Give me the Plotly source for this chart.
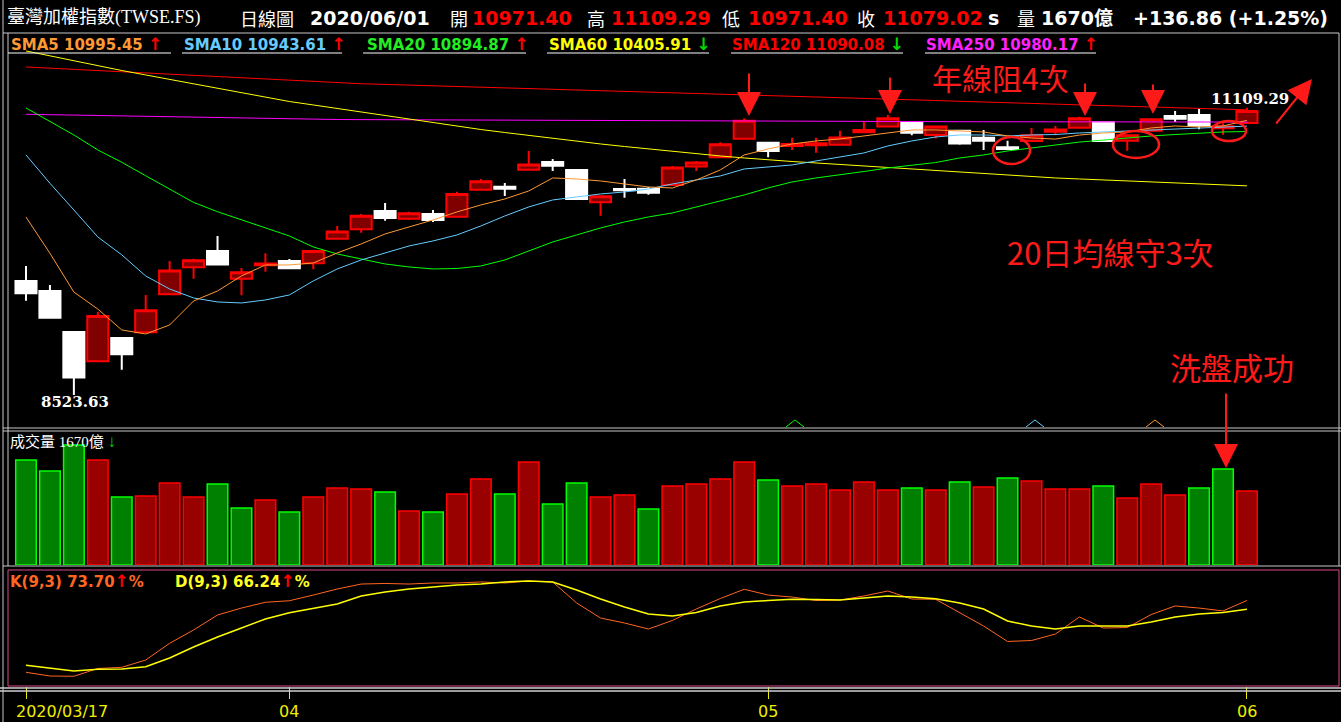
import plotly.graph_objects as go

# ---------------- data ----------------
dates = [
    "2020/03/17", "2020/03/18", "2020/03/19", "2020/03/20", "2020/03/23", "2020/03/24",
    "2020/03/25", "2020/03/26", "2020/03/27", "2020/03/30", "2020/03/31",
    "2020/04/01", "2020/04/06", "2020/04/07", "2020/04/08", "2020/04/09", "2020/04/10",
    "2020/04/13", "2020/04/14", "2020/04/15", "2020/04/16", "2020/04/17", "2020/04/20",
    "2020/04/21", "2020/04/22", "2020/04/23", "2020/04/24", "2020/04/27", "2020/04/28",
    "2020/04/29", "2020/04/30",
    "2020/05/04", "2020/05/05", "2020/05/06", "2020/05/07", "2020/05/08", "2020/05/11",
    "2020/05/12", "2020/05/13", "2020/05/14", "2020/05/15", "2020/05/18", "2020/05/19",
    "2020/05/20", "2020/05/21", "2020/05/22", "2020/05/25", "2020/05/26", "2020/05/27",
    "2020/05/28", "2020/05/29",
    "2020/06/01",
]
opens = [9550, 9459, 9090, 8827, 9036, 9088, 9430, 9673, 9819, 9570, 9691,
         9729, 9709, 9930, 10015, 10179, 10110, 10152, 10128, 10371, 10398, 10551, 10620,
         10548, 10258, 10377, 10380, 10413, 10581, 10663, 10830,
         10794, 10764, 10771, 10776, 10888, 10941, 10980, 10863, 10902, 10839, 10753, 10809,
         10893, 10929, 10978, 10812, 10902, 11034, 11043, 10924,
         10971.40]
highs = [9685, 9513, 9095, 9273, 9040, 9423, 9729, 9750, 9954, 9666, 9799,
         9747, 9825, 10044, 10152, 10251, 10173, 10188, 10353, 10468, 10431, 10719, 10647,
         10555, 10315, 10467, 10395, 10584, 10629, 10798, 11014,
         10800, 10839, 10839, 10902, 10983, 11043, 10985, 10945, 10910, 10908, 10812, 10926,
         10944, 11028, 10985, 10865, 11010, 11079, 11098, 10969,
         11109.29]
lows = [9372, 9210, 8523.63, 8820, 8751, 9080, 9425, 9570, 9690, 9421, 9633,
        9660, 9655, 9925, 9984, 10092, 10098, 10080, 10120, 10365, 10314, 10545, 10539,
        10278, 10137, 10299, 10326, 10410, 10539, 10660, 10825,
        10663, 10728, 10704, 10770, 10885, 10938, 10861, 10833, 10776, 10728, 10728, 10805,
        10861, 10925, 10805, 10722, 10898, 10980, 10915, 10866,
        10971.40]
closes = [9440, 9219, 8681, 9234, 8890, 9286, 9645, 9736, 9699, 9629, 9708,
          9664, 9819, 9996, 10137, 10116, 10159, 10098, 10333, 10447, 10380, 10597, 10587,
          10288, 10312, 10366, 10344, 10572, 10617, 10780, 10992,
          10720, 10782, 10789, 10842, 10908, 11014, 10884, 10941, 10788, 10812, 10737, 10861,
          10914, 11014, 10809, 10861, 11005, 11010, 10946, 10942.16,
          11079.02]
prev_close = 9717.77

volume = [2370, 2122, 2708, 2370, 1535, 1557, 1851, 1535, 1828, 1286,
          1467, 1196, 1535, 1738, 1715, 1648, 1219, 1196, 1602, 1941,
          1602, 2325, 1377, 1851, 1535, 1580, 1264, 1783, 1828, 1941,
          2325, 1918, 1783, 1828, 1693, 1873, 1693, 1738, 1693, 1873,
          1760, 1964, 1896, 1715, 1715, 1783, 1512, 1828, 1580, 1738,
          2167, 1670]

sma5 = [10125, 9799, 9450, 9297, 9109, 9073, 9154, 9370, 9460, 9595,
        9694, 9694, 9712, 9802, 9883, 9973, 10036, 10099, 10171, 10234,
        10288, 10360, 10477, 10468, 10450, 10423, 10396, 10387, 10459, 10549,
        10684, 10738, 10783, 10810, 10828, 10855, 10882, 10909, 10909, 10900,
        10891, 10855, 10837, 10827, 10863, 10882, 10891, 10927, 10945, 10936,
        10945, 10995.45]
sma10 = [10684, 10429, 10189, 9946, 9785, 9595, 9478, 9397, 9361, 9352,
         9379, 9424, 9550, 9658, 9739, 9802, 9865, 9910, 9964, 10045,
         10135, 10216, 10279, 10306, 10333, 10351, 10378, 10423, 10459, 10495,
         10558, 10576, 10594, 10630, 10666, 10702, 10765, 10810, 10846, 10864,
         10864, 10855, 10864, 10868, 10882, 10891, 10900, 10904, 10918, 10927,
         10936, 10943.61]
sma20 = [11107, 10983, 10864, 10729, 10618, 10497, 10378, 10257, 10173, 10100,
         10027, 9955, 9856, 9793, 9748, 9703, 9676, 9658, 9662, 9685,
         9739, 9820, 9901, 9964, 10027, 10081, 10126, 10162, 10216, 10270,
         10324, 10387, 10441, 10477, 10504, 10535, 10567, 10594, 10616, 10657,
         10684, 10720, 10747, 10774, 10800, 10818, 10837, 10855, 10868, 10882,
         10891, 10894.87]
sma60 = [11620, 11575, 11530, 11485, 11444, 11404, 11363, 11323, 11287, 11246,
         11206, 11165, 11134, 11102, 11071, 11039, 11008, 10976, 10945, 10913,
         10886, 10859, 10832, 10810, 10783, 10760, 10738, 10715, 10693, 10675,
         10657, 10639, 10625, 10612, 10598, 10585, 10571, 10558, 10544, 10531,
         10517, 10504, 10490, 10477, 10468, 10459, 10450, 10441, 10432, 10423,
         10414, 10405.91]
sma120 = [11476, 11465, 11454, 11443, 11432, 11422, 11410, 11398, 11386, 11375,
          11364, 11353, 11342, 11332, 11325, 11319, 11313, 11306, 11300, 11294,
          11287, 11281, 11275, 11269, 11262, 11256, 11250, 11243, 11237, 11231,
          11225, 11219, 11212, 11206, 11199, 11193, 11186, 11180, 11174, 11167,
          11161, 11154, 11148, 11142, 11135, 11129, 11122, 11116, 11110, 11103,
          11097, 11090.08]
sma250 = [11050, 11046, 11042, 11038, 11034, 11030, 11026, 11022, 11018, 11014,
          11010, 11006, 11004, 11003, 11002, 11001, 11000, 10999, 10998, 10997,
          10996, 10995, 10994, 10993, 10992, 10991, 10990, 10989, 10988, 10987,
          10986, 10986, 10986, 10985, 10985, 10985, 10984, 10984, 10984, 10983,
          10983, 10983, 10982, 10982, 10982, 10982, 10981, 10981, 10981, 10980,
          10980, 10980.17]

k_vals = [11.8, 8.6, 8.4, 15.1, 16.1, 22.4, 36.8, 48.3, 61.2, 67.2,
          72.2, 73.5, 78.4, 83.6, 87.9, 88.4, 87.9, 88.8, 88.8, 89.7,
          88.8, 90.5, 89.7, 71.6, 58.6, 54.3, 49.1, 56.5, 66.4, 75.4,
          83.4, 78.4, 76.7, 73.7, 74.1, 77.6, 81.9, 75.0, 74.7, 62.9,
          51.7, 38.4, 39.2, 44.8, 59.5, 50.0, 50.4, 61.6, 69.0, 67.2,
          64.7, 73.70]
d_vals = [17.8, 15.5, 12.9, 14.4, 14.7, 16.6, 24.1, 33.6, 42.2, 50.0,
          57.8, 63.2, 67.2, 70.7, 77.6, 81.0, 83.6, 85.3, 87.1, 87.9,
          89.7, 90.5, 89.7, 82.8, 75.0, 68.1, 62.1, 60.3, 63.4, 69.0,
          72.4, 73.7, 74.7, 74.6, 74.1, 75.9, 77.6, 76.7, 75.3, 71.6,
          66.4, 56.0, 51.7, 49.1, 51.7, 51.7, 51.7, 55.2, 59.5, 62.1,
          63.4, 66.24]

tick_dates = ["2020/03/17", "2020/04/01", "2020/05/04", "2020/06/01"]
tick_labels = ["2020/03/17", "04", "05", "06"]

# ---------------- layout helpers ----------------
W, H = 1341, 722
STEP = 23.94
X0PIX = 26


def px(x):
    return x / W


def py(y):
    return 1 - y / H


CJK = "Noto Sans CJK TC"
SANS = "DejaVu Sans"
SERIF_CJK = "Liberation Serif, Noto Sans CJK TC"

fig = go.Figure()

# candles
fig.add_trace(go.Candlestick(
    x=dates, open=opens, high=highs, low=lows, close=closes,
    increasing=dict(line=dict(color="#FF0000", width=2), fillcolor="#800000"),
    decreasing=dict(line=dict(color="#FFFFFF", width=2), fillcolor="#FFFFFF"),
    whiskerwidth=0, xaxis="x", yaxis="y", showlegend=False, hoverinfo="skip"))

# moving averages
ma_series = [
    (sma250, "#FF00FF"), (sma120, "#FF0000"), (sma60, "#FFFF00"),
    (sma20, "#00FF00"), (sma10, "#66CCFF"), (sma5, "#FF9933"),
]
for vals, col in ma_series:
    fig.add_trace(go.Scatter(x=dates, y=vals, mode="lines", line=dict(color=col, width=1),
                             xaxis="x", yaxis="y", showlegend=False, hoverinfo="skip"))

# volume
fills, edges = [], []
prev = prev_close
for c in closes:
    if c >= prev:
        fills.append("#990000"); edges.append("#FF0000")
    else:
        fills.append("#008000"); edges.append("#00FF00")
    prev = c
fig.add_trace(go.Bar(x=dates, y=volume, width=0.86,
                     marker=dict(color=fills, line=dict(color=edges, width=1.5)),
                     xaxis="x2", yaxis="y2", showlegend=False, hoverinfo="skip"))

# KD
fig.add_trace(go.Scatter(x=dates, y=k_vals, mode="lines", line=dict(color="#FF6622", width=1),
                         xaxis="x3", yaxis="y3", showlegend=False, hoverinfo="skip"))
fig.add_trace(go.Scatter(x=dates, y=d_vals, mode="lines", line=dict(color="#FFFF00", width=1.5),
                         xaxis="x3", yaxis="y3", showlegend=False, hoverinfo="skip"))

# ---------------- annotations ----------------
ann = []


def txt(x, y, s, color, size, family, anchor="left"):
    ann.append(dict(x=px(x), y=py(y), xref="paper", yref="paper", text=s, showarrow=False,
                    xanchor=anchor, yanchor="middle", borderpad=0,
                    font=dict(color=color, size=size, family=family)))


# header
hy = 18
txt(6, hy, "臺灣加權指數(TWSE.FS)", "#FFFFFF", 18, SERIF_CJK)
txt(239, hy, "日線圖", "#FFFFFF", 18, CJK)
txt(309, hy, "<b>2020/06/01</b>", "#FFFFFF", 19, SANS)
txt(449, hy, "開", "#FFFFFF", 18, CJK)
txt(471, hy, "<b>10971.40</b>", "#FF0000", 19, SANS)
txt(586, hy, "高", "#FFFFFF", 18, CJK)
txt(610, hy, "<b>11109.29</b>", "#FF0000", 19, SANS)
txt(721, hy, "低", "#FFFFFF", 18, CJK)
txt(747, hy, "<b>10971.40</b>", "#FF0000", 19, SANS)
txt(856, hy, "收", "#FFFFFF", 18, CJK)
txt(882, hy, "<b>11079.02</b>", "#FF0000", 19, SANS)
txt(987, hy, "<b>s</b>", "#FFFFFF", 19, SANS)
txt(1016, hy, "量", "#FFFFFF", 18, CJK)
txt(1040, hy, "<b>1670億</b>", "#FFFFFF", 19, SANS + ", " + CJK)
txt(1132, hy, "<b>+136.86 (+1.25%)</b>", "#FFFFFF", 19, SANS)

# moving-average legend
UP = "<span style='color:#FF0000;font-size:17px'>↑</span>"
DN = "<span style='color:#00DD00;font-size:17px'>↓</span>"
legend_items = [
    (10, "SMA5 10995.45", "#FF9933", UP, 8, 171),
    (183, "SMA10 10943.61", "#66CCFF", UP, 182, 342),
    (366, "SMA20 10894.87", "#22EE22", UP, 363, 526),
    (548, "SMA60 10405.91", "#FFFF00", DN, 547, 709),
    (731, "SMA120 11090.08", "#FF0000", DN, 731, 903),
    (925, "SMA250 10980.17", "#FF22FF", UP, 925, 1096),
]
for x, label, col, arrow, u0, u1 in legend_items:
    txt(x, 44, "<b>" + label + " " + arrow + "</b>", col, 15, SANS)

# price labels
txt(75, 402, "<b>8523.63</b>", "#FFFFFF", 15, "DejaVu Serif", anchor="center")
txt(1250, 99, "<b>11109.29</b>", "#FFFFFF", 15, "DejaVu Serif", anchor="center")

# chart notes
txt(1000, 77, "年線阻4次", "#FF1A1A", 30, CJK, anchor="center")
txt(1110, 251, "20日均線守3次", "#FF1A1A", 31, CJK, anchor="center")
txt(1232, 366, "洗盤成功", "#FF1A1A", 31, CJK, anchor="center")

# volume header
txt(9, 441, "成交量 1670億 <span style='color:#00DD00;font-size:17px'><b>↓</b></span>",
    "#FFFFFF", 15, SERIF_CJK)

# KD header
txt(9, 581, "<b>K(9,3) 73.70<span style='color:#FF0000;font-size:17px'>↑</span>%</b>",
    "#FF6622", 15, SANS)
txt(174, 581, "<b>D(9,3) 66.24<span style='color:#FF0000;font-size:17px'>↑</span>%</b>",
    "#FFFF22", 15, SANS)

# date labels
for d, lab in zip(tick_dates, tick_labels):
    if lab == tick_labels[0]:
        ann.append(dict(x=d, y=py(711), xref="x3", yref="paper", text=lab, showarrow=False,
                        xanchor="left", yanchor="middle", xshift=-12,
                        font=dict(color="#EEEE00", size=16, family=SANS)))
    else:
        ann.append(dict(x=d, y=py(711), xref="x3", yref="paper", text=lab, showarrow=False,
                        xanchor="center", yanchor="middle",
                        font=dict(color="#EEEE00", size=16, family=SANS)))

# red arrows
def arrow(hx, hy_, tx, ty, w=2, size=2.4):
    ann.append(dict(x=px(hx), y=py(hy_), xref="paper", yref="paper", ax=tx - hx, ay=ty - hy_,
                    axref="pixel", ayref="pixel", text="", showarrow=True, arrowhead=2,
                    arrowsize=size, arrowwidth=w, arrowcolor="#FF1A1A", standoff=0))


arrow(749, 116, 749, 72)
arrow(890, 114, 890, 76)
arrow(1085, 116, 1085, 82)
arrow(1153, 114, 1153, 83)
arrow(1312, 79, 1275, 125)
arrow(1226, 468, 1226, 392)

# ---------------- shapes ----------------
shapes = []
GRAY = "#C8C8C8"


def hline(y, x0, x1, col=GRAY, w=1):
    shapes.append(dict(type="line", xref="paper", yref="paper", x0=px(x0), x1=px(x1),
                       y0=py(y), y1=py(y), line=dict(color=col, width=w)))


def vline(x, y0, y1, col=GRAY, w=1):
    shapes.append(dict(type="line", xref="paper", yref="paper", x0=px(x), x1=px(x),
                       y0=py(y0), y1=py(y1), line=dict(color=col, width=w)))


vline(3, 0, 722)
vline(8, 33, 566)
vline(1339, 33, 566)
hline(33, 3, 1339)
hline(428, 3, 1341)
hline(431, 3, 1341)
hline(566, 3, 1341)
shapes.append(dict(type="rect", xref="paper", yref="paper", x0=px(8), x1=px(1339),
                   y0=py(686), y1=py(570), line=dict(color="#D84A88", width=1)))
hline(688, 0, 1341, "#D0D0D0", 1.5)
hline(691, 0, 1341, "#D0D0D0", 1.5)

for x, label, col, arrow_, u0, u1 in legend_items:
    hline(53, u0, u1, "#FFFFFF", 1)

# small crossover markers at bottom of price panel
for cx, col in [(795, "#00FF00"), (1035, "#66CCFF"), (1155, "#FF9933")]:
    path = "M {:.4f} {:.4f} L {:.4f} {:.4f} L {:.4f} {:.4f}".format(
        px(cx - 9), py(427), px(cx), py(420), px(cx + 9), py(427))
    shapes.append(dict(type="path", xref="paper", yref="paper", path=path,
                       line=dict(color=col, width=1)))

# red ellipses
for x0, y0, x1, y1 in [(993, 137, 1030, 164), (1113, 131, 1159, 158), (1212, 121, 1246, 141)]:
    shapes.append(dict(type="circle", xref="paper", yref="paper", x0=px(x0), x1=px(x1),
                       y0=py(y1), y1=py(y0), line=dict(color="#FF1A1A", width=2.5)))

# ---------------- axes ----------------
xr = [-X0PIX / STEP, (W - X0PIX) / STEP]
ymain = [12078.6 - 9 * 428, 12078.6 - 9 * 35]

fig.update_layout(
    width=W, height=H,
    margin=dict(l=0, r=0, t=0, b=0, autoexpand=False),
    paper_bgcolor="#000000", plot_bgcolor="#000000",
    showlegend=False, hovermode=False, boxgap=0.12, boxgroupgap=0,
    xaxis=dict(domain=[0, 1], anchor="y", type="category", range=xr, visible=False,
               rangeslider=dict(visible=False)),
    xaxis2=dict(domain=[0, 1], anchor="y2", type="category", matches="x", visible=False),
    xaxis3=dict(domain=[0, 1], anchor="y3", type="category", matches="x",
                showticklabels=False, ticks="outside", ticklen=12, tickwidth=1,
                tickcolor="#EEEE00", tickvals=tick_dates, showgrid=False,
                zeroline=False, showline=False),
    yaxis=dict(domain=[py(428), py(35)], range=ymain, visible=False),
    yaxis2=dict(domain=[py(565), py(432)], range=[0, 133 * 22.57], visible=False),
    yaxis3=dict(domain=[py(686), py(570)], range=[0, 100], visible=False),
    annotations=ann, shapes=shapes,
)

fig.write_html(
    "out.html",
    config={"displayModeBar": False},
    post_script="document.body.style.margin='0';document.body.style.overflow='hidden';",
)
